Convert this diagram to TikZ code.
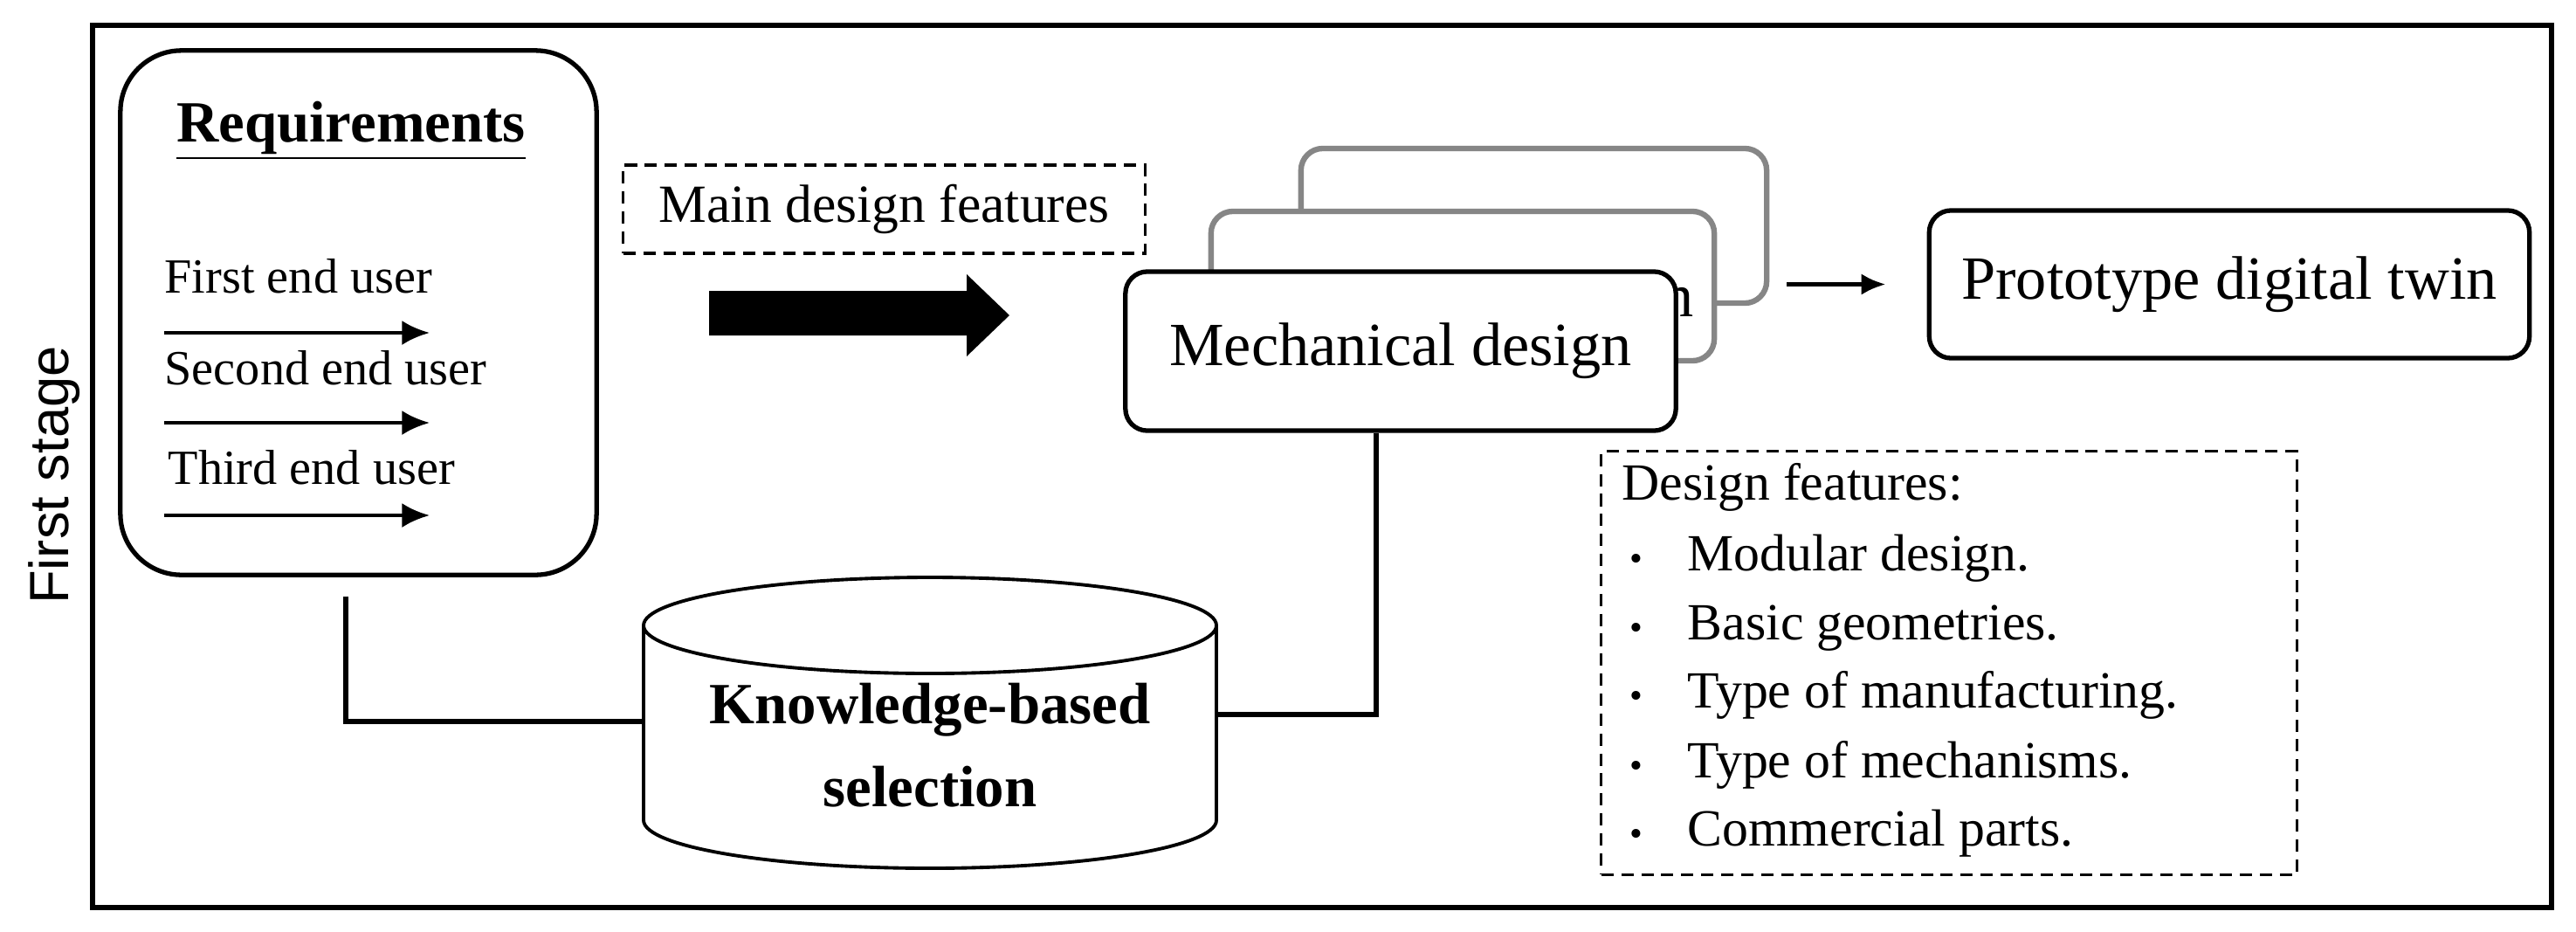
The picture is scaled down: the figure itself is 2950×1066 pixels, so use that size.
\documentclass[tikz,border=0pt]{standalone}
\usepackage{fontspec}
\setmainfont{Liberation Serif}
\newfontfamily\sansf{Liberation Sans}
\usetikzlibrary{arrows.meta}
\begin{document}
\begin{tikzpicture}[x=0.01cm,y=0.01cm,
  box/.style={draw,line width=1.5pt,rounded corners=#1,inner sep=0pt},
  gbox/.style={draw=gray!95,line width=1.8pt,rounded corners=0.25cm,fill=white,inner sep=0pt},
  dbox/.style={draw,line width=0.9pt,dash pattern=on 4pt off 2.5pt,inner sep=0pt},
  conn/.style={line width=1.5pt},
  uarr/.style={line width=1.3pt,-{Latex[length=9pt,width=8pt]}},
  item/.style={font=\fontsize{17}{20}\selectfont,inner sep=0pt,anchor=base west}]
\useasboundingbox (0,0) rectangle (2950,-1066);
\node[draw,line width=1.8pt,minimum width=28.14cm,minimum height=10.10cm,inner sep=0pt] (frame) at (1514,-534) {};
\node[rotate=90,font=\sansf\fontsize{18}{20}\selectfont,inner sep=0pt] (stage) at (62,-544) {First stage};
% requirements
\node[box=0.7cm,minimum width=5.45cm,minimum height=6.0cm] (req) at (410.5,-358) {};
\node[font=\bfseries\fontsize{19}{22}\selectfont,inner sep=0pt,anchor=base] (reqt) at (402,-162) {\underline{Requirements}};
\node[item,font=\fontsize{16}{19}\selectfont] (u1) at (188,-335) {First end user};
\node[item,font=\fontsize{16}{19}\selectfont] (u2) at (188,-440) {Second end user};
\node[item,font=\fontsize{16}{19}\selectfont] (u3) at (192,-554) {Third end user};
\coordinate (a1s) at (188,-381); \coordinate (a1e) at (492,-381);
\coordinate (a2s) at (188,-484); \coordinate (a2e) at (492,-484);
\coordinate (a3s) at (188,-590); \coordinate (a3e) at (492,-590);
\draw[uarr] (a1s) -- (a1e);
\draw[uarr] (a2s) -- (a2e);
\draw[uarr] (a3s) -- (a3e);
% main design features
\node[dbox,minimum width=5.97cm,minimum height=1.01cm,font=\fontsize{17.5}{20}\selectfont] (mdf) at (1012.5,-239.5) {Main design features};
\fill (812,-333) -- (1107,-333) -- (1107,-314) -- (1156,-361) -- (1107,-408) -- (1107,-384) -- (812,-384) -- cycle;
% stacked boxes
\node[gbox,minimum width=5.33cm,minimum height=1.77cm] (back) at (1756.5,-258.5) {};
\node[gbox,minimum width=5.76cm,minimum height=1.71cm] (mid) at (1675,-327.5) {};
\node[font=\fontsize{20}{24}\selectfont,inner sep=0pt,anchor=base] (midt) at (1675,-362) {Mechanical design};
\node[box=0.25cm,fill=white,minimum width=6.30cm,minimum height=1.82cm,font=\fontsize{20}{24}\selectfont] (mech) at (1604,-402) {Mechanical design};
% prototype
\node[box=0.25cm,minimum width=6.87cm,minimum height=1.69cm,font=\fontsize{20}{24}\selectfont] (proto) at (2553,-325.5) {Prototype digital twin};
\draw[line width=1.5pt,-{Latex[length=8pt,width=7pt]},shorten <=0.2cm,shorten >=0.47cm] (back.east |- proto.west) -- (proto.west);
% cylinder
\draw[line width=1.1pt,fill=white] (737,-716) -- (737,-939) arc[start angle=180,end angle=360,x radius=328,y radius=55] -- (1393,-716);
\draw[line width=1.1pt] (1065,-716) ellipse[x radius=328,y radius=55];
\node[font=\bfseries\fontsize{19}{27}\selectfont,align=center,inner sep=0pt] (kb) at (1065,-853) {Knowledge-based\\selection};
\coordinate (kbL) at (737,-826);
\coordinate (kbR) at (1393,-818);
\coordinate (lc) at (396,-826);
\coordinate (rc) at (1576,-818);
\draw[conn] ([yshift=-0.22cm]req.south -| lc) -- (lc) -- (kbL);
\draw[conn] (mech.south -| rc) -- (rc) -- (kbR);
% design features
\node[dbox,minimum width=7.96cm,minimum height=4.84cm] (df) at (2232,-759) {};
\node[item] (dfh) at (1857,-572) {Design features:};
\foreach \y/\t [count=\i] in {653/Modular design.,732/Basic geometries.,810/Type of manufacturing.,890/Type of mechanisms.,968/Commercial parts.}{
  \node[item,font=\fontsize{12}{14}\selectfont] (b\i) at (1866,-\y) {•};
  \node[item] (d\i) at (1932,-\y) {\t};
}
\end{tikzpicture}
\end{document}
